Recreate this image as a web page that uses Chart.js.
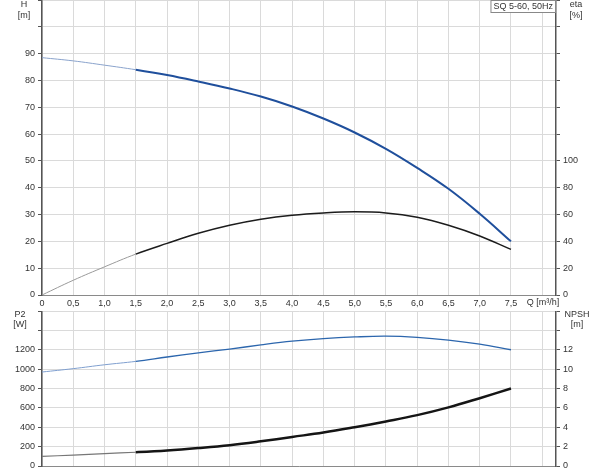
<!DOCTYPE html>
<html>
<head>
<meta charset="utf-8">
<script src="https://cdn.jsdelivr.net/npm/chart.js@4.4.1/dist/chart.umd.min.js"></script>
<style>
  html, body { margin: 0; padding: 0; background: #fff; }
  #wrap { position: relative; width: 600px; height: 473px; }
  #topBox { position: absolute; left: 0; top: 0; width: 600px; height: 310px; }
  #botBox { position: absolute; left: 0; top: 311px; width: 600px; height: 162px; }
</style>
</head>
<body>
<div id="wrap">
  <div id="topBox"><canvas id="topChart"></canvas></div>
  <div id="botBox"><canvas id="botChart"></canvas></div>
</div>
<script>
const qValues = [0, 0.5, 1.0, 1.5, 2.0, 2.5, 3.0, 3.5, 4.0, 4.5, 5.0, 5.5, 6.0, 6.5, 7.0, 7.5];
const headValues = [88.5, 87.3, 85.7, 84.0, 82.0, 79.6, 77.0, 74.0, 70.3, 65.8, 60.6, 54.5, 47.4, 39.6, 30.3, 20.0];
const etaValues = [0, 11, 21, 30.5, 38.5, 46, 52, 56.5, 59.5, 61.2, 62, 61.2, 58, 52, 44, 34];
const powerValues = [970, 1005, 1045, 1080, 1125, 1168, 1207, 1250, 1288, 1315, 1332, 1340, 1328, 1300, 1258, 1200];
const npshValues = [1.0, 1.12, 1.28, 1.42, 1.6, 1.85, 2.15, 2.55, 3.0, 3.45, 4.0, 4.6, 5.25, 6.05, 7.0, 8.0];

const title = 'SQ 5-60, 50Hz';
const qLabel = 'Q [m³/h]';

const FONT = '"Liberation Sans", Arial, sans-serif';
const gridColor = '#dadada';
const tickText = '#333';
const axisDark = '#555';

Chart.defaults.font.family = FONT;
Chart.defaults.font.size = 9;
Chart.defaults.color = tickText;
Chart.defaults.animation = false;

const pts = (ys) => qValues.map((q, i) => ({ x: q, y: ys[i] }));
const fmtQ = (v) => v === 0 ? '0' : v.toFixed(1).replace('.', ',');

// plain width / height for each axis so both charts line up
const fixW = (w) => (s) => { s.width = w; s.paddingTop = 0; s.paddingBottom = 0; };
const fixH = (h) => (s) => { s.height = h; s.paddingLeft = 0; s.paddingRight = 0; };

function curve(data, axis, light, dark, thin, thick) {
    return {
        data: pts(data),
        yAxisID: axis,
        borderColor: dark,
        borderWidth: thick,
        pointRadius: 0,
        fill: false,
        tension: 0.4,
        segment: {
            borderColor: c => c.p0.parsed.x < 1.5 ? light : dark,
            borderWidth: c => c.p0.parsed.x < 1.5 ? thin : thick
        }
    };
}

function xScale(showLabels, h) {
    return {
        type: 'linear', min: 0, max: 8.22,
        afterFit: fixH(h),
        border: { display: true, color: '#8a8a8a', width: 1 },
        grid: { color: gridColor, lineWidth: 1, drawTicks: false },
        ticks: {
            display: showLabels, stepSize: 0.5, includeBounds: false, padding: 3,
            maxRotation: 0, autoSkip: false,
            callback: v => v <= 7.5 ? fmtQ(v) : ''
        }
    };
}

function yScale(pos, max, step, lastLabel, w, onArea) {
    return {
        type: 'linear', position: pos, min: 0, max: max,
        afterFit: fixW(w),
        border: { display: true, color: axisDark, width: 1.5 },
        grid: {
            drawOnChartArea: onArea, color: gridColor, lineWidth: 1,
            drawTicks: true, tickLength: 4, tickColor: axisDark
        },
        ticks: {
            stepSize: step, includeBounds: false, padding: 3, autoSkip: false,
            callback: v => v <= lastLabel ? String(v) : ''
        }
    };
}

function textPlugin(draw) {
    return { id: 'txt', afterDraw: (chart) => { const ctx = chart.ctx; ctx.save(); draw(ctx, chart); ctx.restore(); } };
}

function label(ctx, str, x, y, align) {
    ctx.fillStyle = tickText;
    ctx.font = '9px ' + FONT;
    ctx.textAlign = align || 'center';
    ctx.textBaseline = 'middle';
    ctx.fillText(str, x, y);
}

new Chart(document.getElementById('topChart'), {
    type: 'line',
    data: {
        datasets: [
            curve(headValues, 'y', '#8aa3cc', '#1f4f9c', 1, 2),
            curve(etaValues, 'y2', '#9a9a9a', '#1c1c1c', 1, 1.5)
        ]
    },
    options: {
        responsive: true,
        maintainAspectRatio: false,
        layout: { padding: 0 },
        plugins: { legend: { display: false }, tooltip: { enabled: false } },
        scales: {
            x: xScale(true, 15),
            y: yScale('left', 110, 10, 90, 42, true),
            y2: yScale('right', 220, 20, 100, 44, false)
        }
    },
    plugins: [textPlugin((ctx, chart) => {
        const a = chart.chartArea;
        label(ctx, 'H', 24, 5);
        label(ctx, '[m]', 24, 16);
        label(ctx, 'eta', 576, 5);
        label(ctx, '[%]', 576, 16);
        label(ctx, qLabel, a.right - 13, a.bottom + 8);
        ctx.font = '9px ' + FONT;
        const tw = ctx.measureText(title).width;
        const bx = a.right - tw - 6;
        ctx.fillStyle = '#fff';
        ctx.fillRect(bx, 0.5, tw + 5, 12);
        ctx.strokeStyle = '#888';
        ctx.lineWidth = 1;
        ctx.strokeRect(bx + 0.5, 0.5, tw + 5, 12);
        ctx.fillStyle = tickText;
        ctx.textAlign = 'left';
        ctx.textBaseline = 'middle';
        ctx.fillText(title, bx + 3, 7);
    })]
});

new Chart(document.getElementById('botChart'), {
    type: 'line',
    data: {
        datasets: [
            curve(powerValues, 'y', '#7f9fcf', '#2c66ad', 1, 1.3),
            curve(npshValues, 'y2', '#777', '#151515', 1.2, 2.5)
        ]
    },
    options: {
        responsive: true,
        maintainAspectRatio: false,
        layout: { padding: 0 },
        plugins: { legend: { display: false }, tooltip: { enabled: false } },
        scales: {
            x: xScale(false, 7),
            y: yScale('left', 1600, 200, 1200, 42, true),
            y2: yScale('right', 16, 2, 12, 44, false)
        }
    },
    plugins: [textPlugin((ctx) => {
        label(ctx, 'P2', 20, 4);
        label(ctx, '[W]', 20, 14);
        label(ctx, 'NPSH', 577, 4);
        label(ctx, '[m]', 577, 14);
    })]
});
</script>
</body>
</html>
